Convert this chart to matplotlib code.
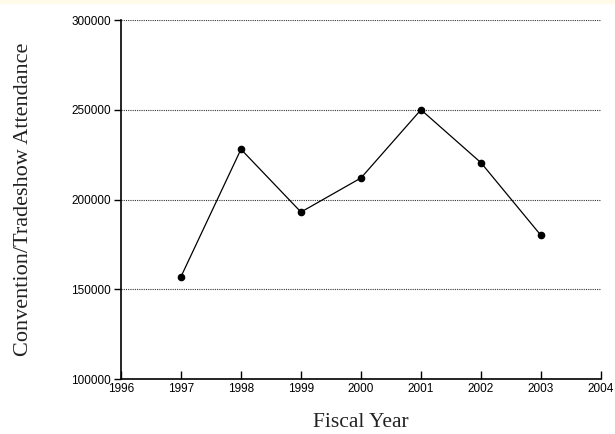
import matplotlib.pyplot as plt
from matplotlib.patches import Rectangle

# fiscal years and attendance
years = [1997, 1998, 1999, 2000, 2001, 2002, 2003]
attendance = [157000, 228000, 193000, 212000, 250000, 220500, 180000]

x_ticks = list(range(1996, 2005))
y_ticks = [100000, 150000, 200000, 250000, 300000]

fig = plt.figure(figsize=(6.15, 4.34), dpi=100)
ax = fig.add_axes([0.1967, 0.1267, 0.7805, 0.8272])

# pale strip along the top edge
fig.patches.append(Rectangle((0, 0.993), 1, 0.007, transform=fig.transFigure,
                             color='#fffbe8', zorder=0))

ax.plot(years, attendance, color='black', lw=0.9, marker='o', ms=4.5, zorder=3)

ax.set_xlim(1996, 2004)
ax.set_ylim(100000, 300000)
ax.set_xticks(x_ticks)
ax.set_yticks(y_ticks)
ax.set_xticklabels([str(t) for t in x_ticks], fontsize=8.5, family='Liberation Sans')
ax.set_yticklabels([str(t) for t in y_ticks], fontsize=8.5, family='Liberation Sans')

for t in y_ticks[1:]:
    ax.axhline(t, color='#333333', ls=(0, (1, 1)), lw=0.8, zorder=1)

ax.spines['top'].set_visible(False)
ax.spines['right'].set_visible(False)
ax.spines['left'].set_linewidth(1.2)
ax.spines['bottom'].set_linewidth(1.2)
ax.tick_params(axis='x', direction='in', length=6, width=1.0, pad=3)
ax.tick_params(axis='y', direction='out', length=5, width=1.0, pad=2)

ax.set_xlabel('Fiscal Year', fontsize=15.5, family='Liberation Serif',
              color='#222222', labelpad=13)
ax.set_ylabel('Convention/Tradeshow Attendance', fontsize=16, family='Liberation Serif',
              color='#222222', labelpad=28)

plt.savefig('out.png', dpi=100)
